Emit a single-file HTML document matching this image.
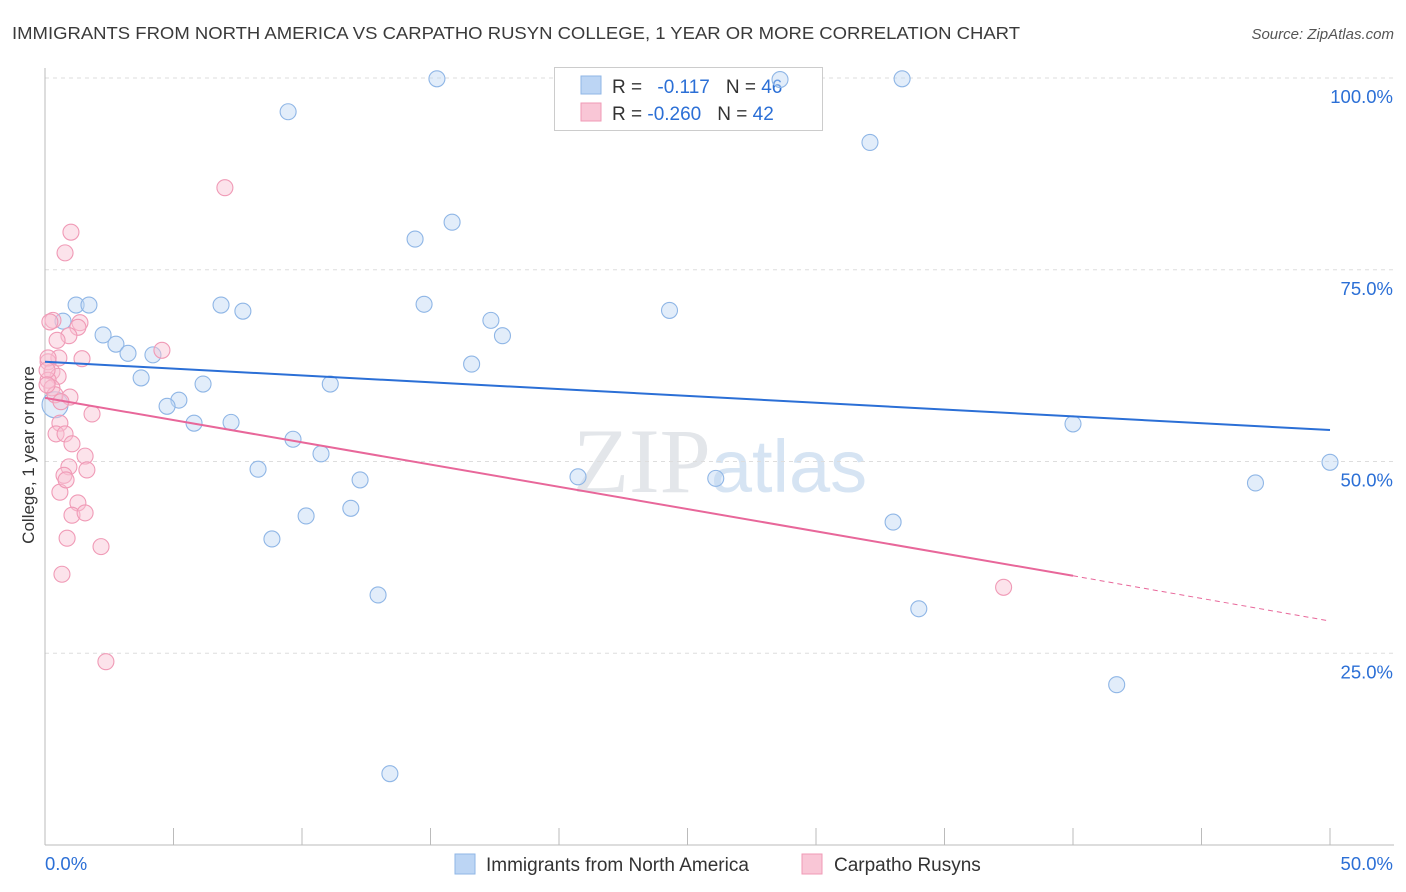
<!DOCTYPE html>
<html><head><meta charset="utf-8"><style>
body{margin:0;background:#fff;font-family:"Liberation Sans",sans-serif}
#wrap{position:relative;width:1406px;height:892px;overflow:hidden}
</style></head><body>
<div id="wrap">
<svg id="svg" width="1406" height="892" xmlns="http://www.w3.org/2000/svg" font-family="Liberation Sans, sans-serif">
<text x="12" y="39" font-size="17.5" fill="#3a3a3a" textLength="1008" lengthAdjust="spacingAndGlyphs">IMMIGRANTS FROM NORTH AMERICA VS CARPATHO RUSYN COLLEGE, 1 YEAR OR MORE CORRELATION CHART</text>
<text x="1394" y="39" font-size="15" fill="#555" font-style="italic" text-anchor="end">Source: ZipAtlas.com</text>
<text x="720" y="492" font-size="92" fill="#e3e6ea" text-anchor="middle" font-family="Liberation Serif, serif">ZIP<tspan fill="#d6e4f3" font-family="Liberation Sans, sans-serif" font-size="74">atlas</tspan></text>
<text transform="translate(34,455) rotate(-90)" font-size="17" fill="#333" text-anchor="middle">College, 1 year or more</text>
<g id="grid"></g><g id="axes"></g>
<g>
<rect x="554.5" y="67.5" width="268" height="63" fill="#fff" stroke="#ccc"/>
<rect x="581" y="76" width="20" height="18" fill="#bcd5f4" stroke="#8fb6e6"/>
<rect x="581" y="103" width="20" height="18" fill="#f9c6d6" stroke="#f09ab6"/>
<text x="612" y="93" font-size="19" fill="#333">R = <tspan fill="#2b6fd6" dx="10">-0.117</tspan><tspan dx="16" fill="#333">N = </tspan><tspan fill="#2b6fd6">46</tspan></text>
<text x="612" y="120" font-size="19" fill="#333">R = <tspan fill="#2b6fd6" dx="0">-0.260</tspan><tspan dx="16" fill="#333">N = </tspan><tspan fill="#2b6fd6">42</tspan></text>
</g>
<g id="pts"></g><g id="lines"></g>
<g>
<rect x="455" y="854" width="20" height="20" fill="#bcd5f4" stroke="#8fb6e6"/>
<text x="486" y="871" font-size="19" fill="#333">Immigrants from North America</text>
<rect x="802" y="854" width="20" height="20" fill="#f9c6d6" stroke="#f09ab6"/>
<text x="834" y="871" font-size="19" fill="#333">Carpatho Rusyns</text>
</g>
</svg>
</div>
<script>
const blueX=[15.25,28.6,33.35,9.46,32.1,15.84,14.4,1.21,1.71,6.85,7.7,14.75,24.3,0.70,17.35,17.8,2.26,2.76,3.23,4.2,16.6,3.74,6.15,11.1,5.21,4.75,5.8,7.24,40.0,9.65,10.74,8.29,20.74,26.1,12.26,50.0,47.1,11.9,10.16,33.0,8.83,12.96,34.0,41.7,13.42,0.39];
const blueY=[99.9,99.8,99.9,95.6,91.6,81.2,79.0,70.4,70.4,70.4,69.6,70.5,69.7,68.3,68.4,66.4,66.5,65.3,64.1,63.9,62.7,60.9,60.1,60.1,58.0,57.2,55.0,55.1,54.9,52.9,51.0,49.0,48.0,47.8,47.6,49.9,47.2,43.9,42.9,42.1,39.9,32.6,30.8,20.9,9.3,57.4];
const pinkX=[7.0,1.01,0.78,0.31,1.36,1.28,0.93,0.47,4.55,1.44,0.54,0.12,0.27,0.51,0.12,0.27,0.97,0.39,1.83,0.58,0.43,0.78,1.05,1.56,0.93,1.63,0.74,0.58,1.28,1.05,1.56,0.86,2.18,0.66,2.37,37.3,0.12,0.08,0.19,0.62,0.82,0.08];
const pinkY=[85.7,79.9,77.2,68.4,68.1,67.5,66.4,65.8,64.5,63.4,63.5,63.0,61.7,61.1,60.6,59.6,58.4,58.7,56.2,55.0,53.6,53.6,52.3,50.7,49.3,48.9,48.2,46.0,44.6,43.0,43.3,40.0,38.9,35.3,23.9,33.6,63.5,61.9,68.2,57.8,47.6,60.0];
const blueTrend=[63.0,54.1];
const pinkTrend=[58.3,35.1,29.2];
const yTicks=[25,50,75,100];
const yTickLabels=["25.0%","50.0%","75.0%","100.0%"];
const xTicks=[0,5,10,15,20,25,30,35,40,45,50];
const NS="http://www.w3.org/2000/svg";
const X=v=>45+v*25.7, Y=v=>78+(100-v)*7.67;
function mk(parent,tag,attrs){const e=document.createElementNS(NS,tag);for(const k in attrs)e.setAttribute(k,attrs[k]);document.getElementById(parent).appendChild(e);return e;}
yTicks.forEach((t,i)=>{
 const g=mk('grid','line',{x1:45,x2:1394,y1:Y(t),y2:Y(t),stroke:'#ddd','stroke-dasharray':'4,4'});
 
 
 const l=mk('grid','text',{x:1393,y:Y(t)+25,'font-size':18.5,fill:'#2b6fd6','text-anchor':'end'});l.textContent=yTickLabels[i];
 
 
});
const ax=mk('axes','line',{x1:45,x2:45,y1:68,y2:845,stroke:'#bbb'});


const bx=mk('axes','line',{x1:45,x2:1394,y1:845,y2:845,stroke:'#bbb'});


xTicks.forEach(t=>{const tk=mk('axes','line',{x1:X(t),x2:X(t),y1:828,y2:845,stroke:'#bbb'});
 
 });
[[0,'0.0%','start',45],[50,'50.0%','end',1393]].forEach(a=>{const t=mk('axes','text',{x:a[3],y:870,'font-size':18.5,fill:'#2b6fd6','text-anchor':a[2]});t.textContent=a[1];
 
 });
blueX.forEach((x,i)=>{const c=mk('pts','circle',{cx:X(x),cy:Y(blueY[i]),r:i===45?13:8,fill:'rgba(190,214,244,0.45)',stroke:'#8fb6e6','stroke-width':1.1});
 
 });
pinkX.forEach((x,i)=>{const c=mk('pts','circle',{cx:X(x),cy:Y(pinkY[i]),r:8,fill:'rgba(248,192,210,0.45)',stroke:'#f09ab6','stroke-width':1.1});
 
 });
const bl=mk('lines','line',{x1:X(0),y1:Y(blueTrend[0]),x2:X(50),y2:Y(blueTrend[1]),stroke:'#2b6fd6','stroke-width':2});


const pl=mk('lines','line',{x1:X(0),y1:Y(pinkTrend[0]),x2:X(40),y2:Y(pinkTrend[1]),stroke:'#e8679a','stroke-width':2});


const pd=mk('lines','line',{x1:X(40),y1:Y(pinkTrend[1]),x2:X(50),y2:Y(pinkTrend[2]),stroke:'#e8679a','stroke-width':1,'stroke-dasharray':'5,4'});


</script>
</body></html>
